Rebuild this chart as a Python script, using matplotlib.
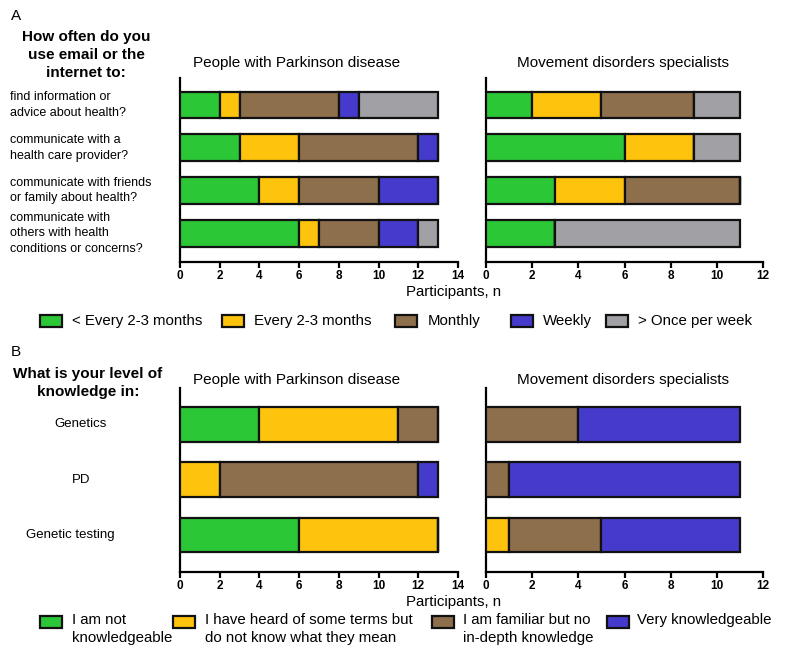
import numpy as np
import matplotlib
matplotlib.use('Agg')
import matplotlib.pyplot as plt
from matplotlib.patches import Rectangle
from matplotlib.transforms import blended_transform_factory

plt.rcParams['font.family'] = ['Liberation Sans', 'DejaVu Sans']

# panel A data (rows top to bottom)
a_rows = ['find information or\nadvice about health?',
          'communicate with a\nhealth care provider?',
          'communicate with friends\nor family about health?',
          'communicate with\nothers with health\nconditions or concerns?']
a_labels = ['< Every 2-3 months', 'Every 2-3 months', 'Monthly', 'Weekly', '> Once per week']
a_pd_lt = [2, 3, 4, 6]
a_pd_23 = [1, 3, 2, 1]
a_pd_month = [5, 6, 4, 3]
a_pd_week = [1, 1, 3, 2]
a_pd_gt = [4, 0, 0, 1]
a_mds_lt = [2, 6, 3, 3]
a_mds_23 = [3, 3, 3, 0]
a_mds_month = [4, 0, 5, 0]
a_mds_week = [0, 0, 0, 0]
a_mds_gt = [2, 2, 0, 8]

# panel B data
b_rows = ['Genetics', 'PD', 'Genetic testing']
b_labels = ['I am not\nknowledgeable', 'I have heard of some terms but\ndo not know what they mean',
            'I am familiar but no\nin-depth knowledge', 'Very knowledgeable']
b_pd_not = [4, 0, 6]
b_pd_heard = [7, 2, 7]
b_pd_fam = [2, 10, 0]
b_pd_very = [0, 1, 0]
b_mds_not = [0, 0, 0]
b_mds_heard = [0, 0, 1]
b_mds_fam = [4, 1, 4]
b_mds_very = [7, 10, 6]

colors = ['#2bc737', '#fec30c', '#8e6f4c', '#453acc', '#a1a0a5']

W, H = 800, 656
fig = plt.figure(figsize=(8, 6.56), dpi=100)


def fx(px):
    return px / W


def fy(py):
    return 1 - py / H


def stacked(ax, series, xmax, bh, ylim):
    n = len(series[0])
    y = np.arange(n)
    left = np.zeros(n)
    for i, s in enumerate(series):
        s = np.array(s, dtype=float)
        ax.barh(y, s, left=left, height=bh, color=colors[i], edgecolor='#111111',
                linewidth=1.6, zorder=3)
        left += s
    ax.set_xlim(0, xmax)
    ax.set_ylim(*ylim)
    ax.set_xticks(np.arange(0, xmax + 1, 2))
    ax.set_yticks([])
    for sp in ['top', 'right']:
        ax.spines[sp].set_visible(False)
    for sp in ['left', 'bottom']:
        ax.spines[sp].set_linewidth(1.6)
    ax.tick_params(axis='x', length=4, width=1.6, pad=2, labelsize=8.5)
    for t in ax.get_xticklabels():
        t.set_fontweight('bold')


# ---- panel A
ax1 = fig.add_axes([fx(180), fy(262), fx(458 - 180), (262 - 78) / H])
ax2 = fig.add_axes([fx(486), fy(262), fx(763 - 486), (262 - 78) / H])
stacked(ax1, [a_pd_lt, a_pd_23, a_pd_month, a_pd_week, a_pd_gt], 14, 0.62, (3.67, -0.63))
stacked(ax2, [a_mds_lt, a_mds_23, a_mds_month, a_mds_week, a_mds_gt], 12, 0.62, (3.67, -0.63))

fig.text(fx(11), fy(16), 'A', fontsize=11, va='center')
fig.text(fx(86), fy(55), 'How often do you\nuse email or the\ninternet to:', fontsize=11,
         fontweight='bold', ha='center', va='center', linespacing=1.4)
fig.text(fx(297), fy(63), 'People with Parkinson disease', fontsize=11, ha='center', va='center')
fig.text(fx(623), fy(63), 'Movement disorders specialists', fontsize=11, ha='center', va='center')
tr1 = blended_transform_factory(fig.transFigure, ax1.transData)
for i, lab in enumerate(a_rows):
    ax1.text(fx(10), i, lab, transform=tr1, fontsize=9, ha='left', va='center', linespacing=1.4)
fig.text(fx(454), fy(292), 'Participants, n', fontsize=10.8, ha='center', va='center')

# legend A
box_x = [40, 222, 395, 511, 606]
txt_x = [72, 254, 428, 543, 638]
for i, lab in enumerate(a_labels):
    fig.patches.append(Rectangle((fx(box_x[i]), fy(327)), fx(22), 12 / H, transform=fig.transFigure,
                                 facecolor=colors[i], edgecolor='#111111', linewidth=1.6))
    fig.text(fx(txt_x[i]), fy(321), lab, fontsize=10.8, ha='left', va='center')

# ---- panel B
ax3 = fig.add_axes([fx(180), fy(572), fx(458 - 180), (572 - 388) / H])
ax4 = fig.add_axes([fx(486), fy(572), fx(763 - 486), (572 - 388) / H])
stacked(ax3, [b_pd_not, b_pd_heard, b_pd_fam, b_pd_very], 14, 0.63, (2.67, -0.66))
stacked(ax4, [b_mds_not, b_mds_heard, b_mds_fam, b_mds_very], 12, 0.63, (2.67, -0.66))

fig.text(fx(11), fy(352), 'B', fontsize=11, va='center')
fig.text(fx(88), fy(383), 'What is your level of\nknowledge in:', fontsize=11,
         fontweight='bold', ha='center', va='center', linespacing=1.45)
fig.text(fx(297), fy(380), 'People with Parkinson disease', fontsize=11, ha='center', va='center')
fig.text(fx(623), fy(380), 'Movement disorders specialists', fontsize=11, ha='center', va='center')
tr3 = blended_transform_factory(fig.transFigure, ax3.transData)
b_row_x = [81, 81, 70]
for i, lab in enumerate(b_rows):
    ax3.text(fx(b_row_x[i]), i, lab, transform=tr3, fontsize=9.5, ha='center', va='center')
fig.text(fx(454), fy(602), 'Participants, n', fontsize=10.8, ha='center', va='center')

# legend B
box_x = [40, 173, 432, 607]
txt_x = [72, 205, 463, 637]
for i, lab in enumerate(b_labels):
    fig.patches.append(Rectangle((fx(box_x[i]), fy(628)), fx(22), 12 / H, transform=fig.transFigure,
                                 facecolor=colors[i], edgecolor='#111111', linewidth=1.6))
    fig.text(fx(txt_x[i]), fy(613), lab, fontsize=10.8, ha='left', va='top', linespacing=1.4)

fig.savefig('out.png', dpi=100)
